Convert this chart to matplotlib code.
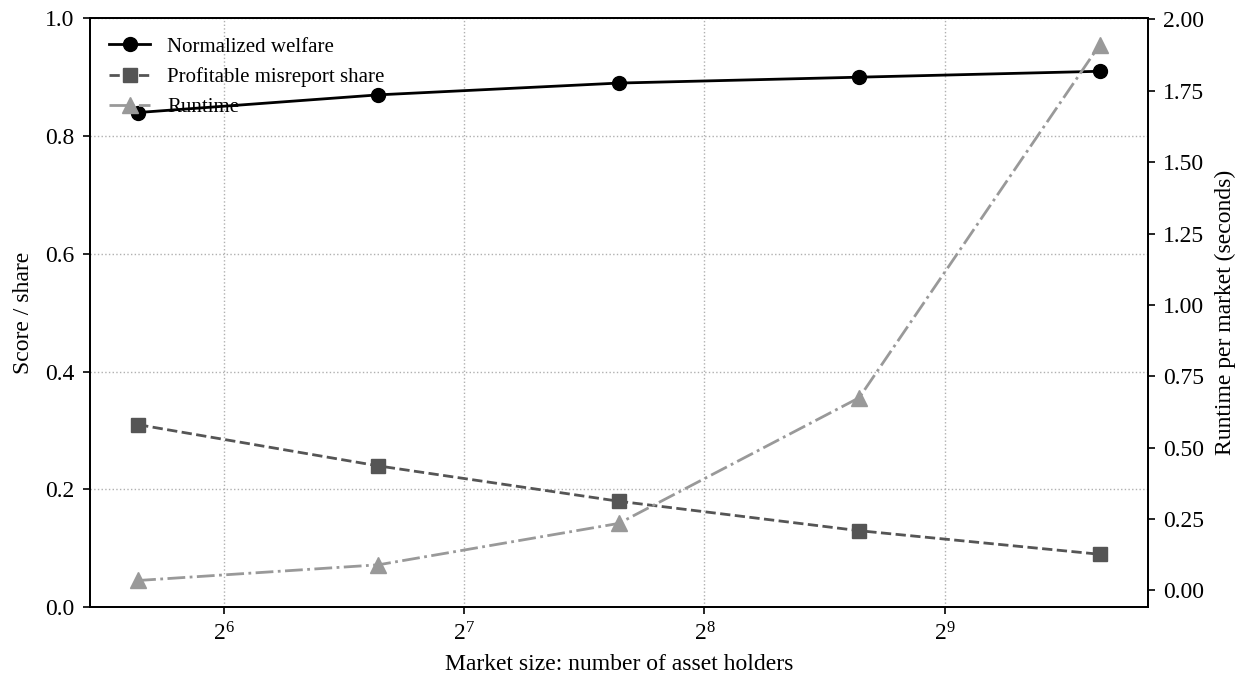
import matplotlib
matplotlib.use('Agg')
import matplotlib.pyplot as plt
from matplotlib.ticker import LogLocator, LogFormatterSciNotation, NullLocator, FormatStrFormatter

plt.rcParams['font.family'] = ['Liberation Serif', 'DejaVu Serif']
plt.rcParams['mathtext.fontset'] = 'custom'
plt.rcParams['mathtext.rm'] = 'Liberation Serif'
plt.rcParams['mathtext.it'] = 'Liberation Serif:italic'
plt.rcParams['font.size'] = 17

market_size = [50, 100, 200, 400, 800]
welfare = [0.84, 0.87, 0.89, 0.90, 0.91]
misreport = [0.31, 0.24, 0.18, 0.13, 0.09]
runtime = [0.035, 0.09, 0.235, 0.675, 1.91]

fig = plt.figure(figsize=(12.42, 6.77), dpi=100)
ax1 = fig.add_axes([0.0725, 0.103, 0.8515, 0.870])
ax2 = ax1.twinx()

l1, = ax1.plot(market_size, welfare, color='black', lw=2, marker='o', ms=10,
               label='Normalized welfare')
l2, = ax1.plot(market_size, misreport, color='#555555', lw=2, ls='--', marker='s', ms=10,
               label='Profitable misreport share')
l3, = ax2.plot(market_size, runtime, color='#999999', lw=2, ls='-.', marker='^', ms=11,
               label='Runtime')

ax1.set_xscale('log', base=2)
ax1.xaxis.set_major_locator(LogLocator(base=2))
ax1.xaxis.set_major_formatter(LogFormatterSciNotation(base=2))
ax1.xaxis.set_minor_locator(NullLocator())
ax1.set_ylim(0, 1.0)
ax1.set_xlabel('Market size: number of asset holders', fontsize=17, labelpad=6)
ax1.set_ylabel('Score / share', fontsize=17, labelpad=8)
ax2.set_ylabel('Runtime per market (seconds)', fontsize=17, labelpad=8)
ax2.yaxis.set_major_formatter(FormatStrFormatter('%.2f'))
ax1.grid(True, ls=':', color='#b0b0b0', lw=1)

leg = ax2.legend([l1, l2, l3], [l.get_label() for l in (l1, l2, l3)],
                 loc='upper left', frameon=False, fontsize=15)
leg.set_zorder(1)
l1.set_zorder(3)

for ax in (ax1, ax2):
    ax.tick_params(direction='out', length=5, width=1.2, pad=6, labelsize=17)
    for s in ax.spines.values():
        s.set_linewidth(1.3)

fig.savefig('out.png', dpi=100)
